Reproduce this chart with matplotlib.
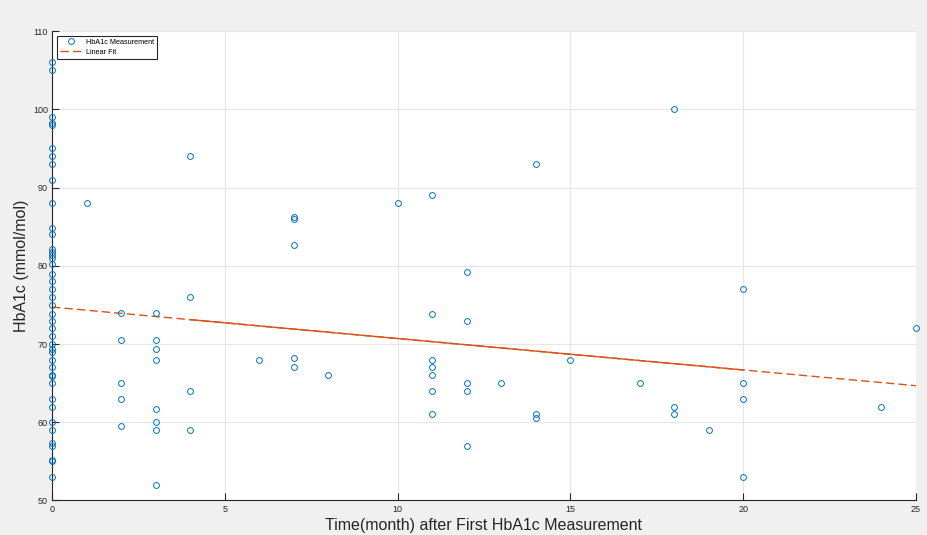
import numpy as np
import matplotlib.pyplot as plt

plt.rcParams['font.family'] = ['Liberation Sans', 'DejaVu Sans']

# datos
x0_vals = [106, 105, 99, 98.2, 98, 95, 94, 93, 91, 88, 84.8, 84, 82.2, 81.8, 81.4, 81, 80.2,
           79, 78, 77, 76, 75, 73.8, 73, 72, 71, 70, 69.4, 69, 68, 67, 66.1, 65.9, 65,
           63, 62, 60, 59, 57.3, 57, 55.2, 55, 53]
months = [0] * len(x0_vals) + [1,
          2, 2, 2, 2, 2,
          3, 3, 3, 3, 3, 3, 3, 3,
          4, 4, 4, 4,
          6, 7, 7, 7, 7, 7, 8, 10,
          11, 11, 11, 11, 11, 11, 11,
          12, 12, 12, 12, 12, 13,
          14, 14, 14, 15, 17,
          18, 18, 18, 19,
          20, 20, 20, 20, 24, 25]
hba1c = x0_vals + [88,
                   74, 70.5, 65, 63, 59.5,
                   74, 70.5, 69.4, 68, 61.7, 60, 59, 52,
                   94, 76, 64, 59,
                   68, 86.2, 86, 82.6, 68.2, 67, 66, 88,
                   89, 73.8, 68, 67, 66, 64, 61,
                   79.2, 73, 65, 64, 57, 65,
                   93, 61, 60.6, 68, 65,
                   100, 62, 61, 59,
                   77, 65, 63, 53, 62, 72]

x = np.array(months, dtype=float)
y = np.array(hba1c, dtype=float)

# ajuste lineal
p = np.polyfit(x, y, 1)
xf = np.linspace(0, 25, 200)
yf = np.polyval(p, xf)
xs = np.linspace(4, 20, 100)

fig = plt.figure(figsize=(9.27, 5.35), dpi=100, facecolor='#f0f0f0')
ax = fig.add_axes([0.0561, 0.0645, 0.932, 0.8775])
ax.set_facecolor('white')

ax.plot(x, y, 'o', mfc='none', mec='#0072BD', ms=4.2, mew=0.7, label='HbA1c Measurement',
        clip_on=False, zorder=3)
ax.plot(xf, yf, '--', color='#D95319', lw=1, dashes=(6, 3), label='Linear Fit')
ax.plot(xs, np.polyval(p, xs), '-', color='#D95319', lw=1)

ax.set_xlim(0, 25)
ax.set_ylim(50, 110)
ax.set_xticks(np.arange(0, 26, 5))
ax.set_yticks(np.arange(50, 111, 10))
ax.grid(True, color='#e6e6e6', lw=0.8)
ax.set_axisbelow(True)
for s in ['top', 'right']:
    ax.spines[s].set_visible(False)
for s in ['left', 'bottom']:
    ax.spines[s].set_color('#262626')
    ax.spines[s].set_linewidth(0.8)
ax.tick_params(direction='in', length=5, width=0.8, colors='#262626', labelsize=6.5, pad=3)

ax.set_xlabel('Time(month) after First HbA1c Measurement', fontsize=11.5, color='#262626', labelpad=3)
ax.set_ylabel('HbA1c (mmol/mol)', fontsize=11.5, color='#262626', labelpad=3)

leg = ax.legend(loc='upper left', fontsize=5.2, fancybox=False, framealpha=1,
                edgecolor='#262626', borderpad=0.4, handlelength=3.0, handletextpad=0.6,
                labelspacing=0.45, bbox_to_anchor=(0.006, 0.99), borderaxespad=0)
leg.get_frame().set_linewidth(0.8)

plt.savefig('out.png', dpi=100, facecolor=fig.get_facecolor())
